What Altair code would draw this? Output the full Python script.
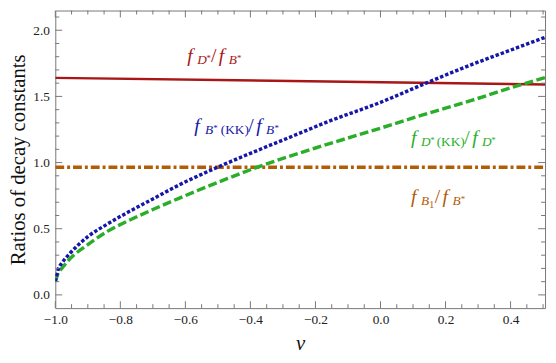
import altair as alt
import pandas as pd

# ---- data ----
nu_blue = [-1.0, -0.99, -0.98, -0.96, -0.90, -0.84, -0.78, -0.70, -0.62, -0.51, -0.40, -0.29, -0.15, 0.0, 0.14, 0.28, 0.40, 0.51]
val_blue = [0.10, 0.20, 0.24, 0.30, 0.44, 0.535, 0.62, 0.725, 0.83, 0.955, 1.07, 1.18, 1.32, 1.455, 1.60, 1.74, 1.85, 1.95]

nu_green = [-1.0, -0.99, -0.98, -0.96, -0.90, -0.84, -0.78, -0.70, -0.62, -0.47, -0.39, -0.20, 0.0, 0.13, 0.28, 0.44, 0.51]
val_green = [0.10, 0.17, 0.20, 0.26, 0.38, 0.48, 0.555, 0.645, 0.73, 0.88, 0.955, 1.11, 1.26, 1.36, 1.47, 1.595, 1.645]

nu_red = [-1.0, 0.51]
val_red = [1.64, 1.59]

nu_orange = [-1.0, 0.51]
val_orange = [0.965, 0.965]

x_major = [-1.0, -0.8, -0.6, -0.4, -0.2, 0.0, 0.2, 0.4]
x_minor = [round(-1.0 + 0.05 * i, 2) for i in range(31) if i % 4 != 0]
y_major = [0.0, 0.5, 1.0, 1.5, 2.0]
y_minor = [round(0.1 * i, 1) for i in range(22) if i % 5 != 0]

RED = "#a81616"
BLUE = "#1616a8"
GREEN = "#2aae2a"
ORANGE = "#b35c06"
FRAME = "#777777"

# labels: start position (nu, value) and segments (text, dx, size, dy, italic)
label_x = [-0.594, -0.573, 0.094, 0.094]
label_y = [1.760, 1.232, 1.143, 0.697]
label_color = [RED, BLUE, GREEN, ORANGE]
label_segments = [
    [("f", 0, 20, 0, True), ("D", 10, 13.5, 2, True), ("*", 19.5, 9, -1, False),
     ("/", 24, 20, 0, False), ("f", 32, 20, 0, True), ("B", 42, 13.5, 2, True), ("*", 50.5, 9, -1, False)],
    [("f", 0, 20, 0, True), ("B", 11, 13.5, 2, True), ("*", 19.5, 9, -1, False), ("(KK)", 27, 13.5, 2, False),
     ("/", 55, 20, 0, False), ("f", 63, 20, 0, True), ("B", 73, 13.5, 2, True), ("*", 81.5, 9, -1, False)],
    [("f", 0, 20, 0, True), ("D", 10, 13.5, 2, True), ("*", 19.5, 9, -1, False), ("(KK)", 26, 13.5, 2, False),
     ("/", 54, 20, 0, False), ("f", 62, 20, 0, True), ("D", 72, 13.5, 2, True), ("*", 81.5, 9, -1, False)],
    [("f", 0, 20, 0, True), ("B", 10, 13.5, 2, True), ("1", 18.5, 10, 5, False),
     ("/", 24, 20, 0, False), ("f", 32, 20, 0, True), ("B", 42, 13.5, 2, True), ("*", 50.5, 9, -1, False)],
]

W, H = 497, 302
FONT = "Liberation Serif"

xs = alt.Scale(domain=[-1.0, 0.506], nice=False, zero=False)
ys = alt.Scale(domain=[-0.1, 2.149], nice=False, zero=False)

XAX = alt.Axis(values=x_major, format=".1f", ticks=False, domain=False, grid=False, labelFlush=False,
               labelFont=FONT, labelFontSize=13.5, labelColor="#222", labelPadding=5,
               title="ν", titleFont=FONT, titleFontSize=21, titleFontStyle="italic",
               titleFontWeight="normal", titleColor="#111", titlePadding=6)
YAX = alt.Axis(values=y_major, format=".1f", ticks=False, domain=False, grid=False, labelFlush=False,
               labelFont=FONT, labelFontSize=13.5, labelColor="#222", labelPadding=6,
               title="Ratios of decay constants", titleFont=FONT, titleFontSize=21,
               titleFontWeight="normal", titleColor="#111", titlePadding=4)


def X(field):
    return alt.X(field, scale=xs, axis=XAX)


def Y(field):
    return alt.Y(field, scale=ys, axis=YAX)


def line_layer(nu, val, color, dash, width):
    df = pd.DataFrame({"nu": nu, "v": val})
    mk = dict(color=color, strokeWidth=width, clip=True)
    if dash:
        mk["strokeDash"] = dash
    return alt.Chart(df).mark_line(interpolate="monotone", **mk).encode(x=X("nu:Q"), y=Y("v:Q"))


layers = []
layers.append(line_layer(nu_red, val_red, RED, None, 2.5))
layers.append(line_layer(nu_orange, val_orange, ORANGE, [9, 3, 3, 3], 3.5))
layers.append(line_layer(nu_green, val_green, GREEN, [9, 3.5], 3.5))
layers.append(line_layer(nu_blue, val_blue, BLUE, [3.5, 2], 3.5))


def yticks(vals, length):
    df = pd.DataFrame({"v": vals})
    base = alt.Chart(df).mark_rule(color=FRAME, strokeWidth=1)
    left = base.encode(y=Y("v:Q"), x=alt.value(0), x2=alt.value(length))
    right = base.encode(y=Y("v:Q"), x=alt.value(W - length), x2=alt.value(W))
    return [left, right]


def xticks(vals, length):
    df = pd.DataFrame({"nu": vals})
    base = alt.Chart(df).mark_rule(color=FRAME, strokeWidth=1)
    bottom = base.encode(x=X("nu:Q"), y=alt.value(H - length), y2=alt.value(H))
    top = base.encode(x=X("nu:Q"), y=alt.value(0), y2=alt.value(length))
    return [bottom, top]


layers += yticks(y_major, 7) + yticks(y_minor, 4) + xticks(x_major, 7) + xticks(x_minor, 4)

for lx, ly, col, segs in zip(label_x, label_y, label_color, label_segments):
    for text, off, size, dy, ital in segs:
        df = pd.DataFrame({"nu": [lx], "v": [ly], "t": [text]})
        layers.append(
            alt.Chart(df).mark_text(
                align="left", baseline="alphabetic", dx=off, dy=dy, font=FONT, fontSize=size,
                fontStyle="italic" if ital else "normal", color=col,
            ).encode(x=X("nu:Q"), y=Y("v:Q"), text="t:N")
        )

chart = alt.layer(*layers).properties(
    width=W, height=H,
    padding={"left": 48, "top": 0, "right": 3, "bottom": 45},
    autosize=alt.AutoSizeParams(type="none"),
).configure_view(stroke=FRAME, strokeWidth=1)

chart.save("out.html", embed_options={"renderer": "svg", "actions": False})
